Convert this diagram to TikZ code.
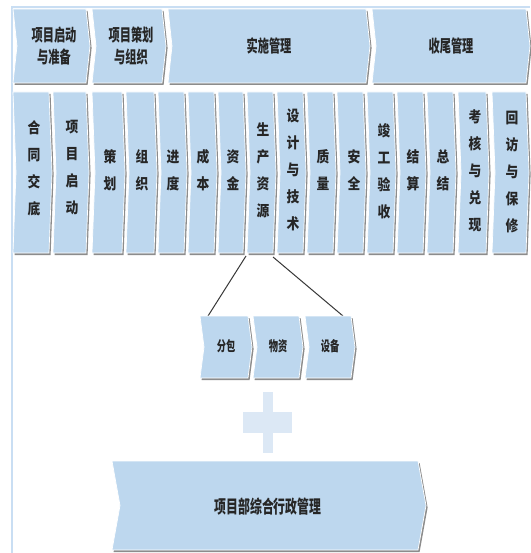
\documentclass[tikz,border=0pt]{standalone}
\usepackage{fontspec}
\newfontfamily\cjkNar[FakeStretch=0.66]{Noto Sans CJK SC}
\newfontfamily\cjkCol[FakeStretch=0.85]{Noto Sans CJK SC}
\usetikzlibrary{calc}
\definecolor{boxblue}{HTML}{BDD7EE}
\definecolor{plusblue}{HTML}{DCE8F5}
\definecolor{framec}{HTML}{C9DEF3}
\definecolor{txt}{HTML}{262626}
\definecolor{shad}{HTML}{8C8C8C}
\tikzset{
  chevbox/.style={fill=boxblue, draw=white, line width=0.7pt, line join=miter},
  chevshadow/.style={fill=shad},
  toplabel/.style={font=\cjkNar\bfseries\fontsize{17}{22}\selectfont, text=txt, align=center, inner sep=0pt},
  collabel/.style={font=\cjkCol\bfseries\fontsize{15}{27}\selectfont, text=txt, align=center, inner sep=0pt},
  smalllabel/.style={font=\cjkNar\bfseries\fontsize{14}{16}\selectfont, text=txt, inner sep=0pt},
  biglabel/.style={font=\cjkNar\bfseries\fontsize{18}{20}\selectfont, text=txt, inner sep=0pt},
  conn/.style={draw=black!78, line width=1pt},
  plusbar/.style={fill=plusblue},
  frameline/.style={draw=framec, line width=1.6pt}
}
\newcommand\mychev[5]{%
  \fill[chevshadow] ({#1+1.6},{#3+2}) -- ({#2+1.6},{#3+2}) -- ({#2+#5+1.6},{(#3+#4)/2+2}) -- ({#2+1.6},{#4+2}) -- ({#1+1.6},{#4+2}) -- ({#1+#5+1.6},{(#3+#4)/2+2}) -- cycle;
  \filldraw[chevbox] (#1,#3) -- (#2,#3) -- ({#2+#5},{(#3+#4)/2}) -- (#2,#4) -- (#1,#4) -- ({#1+#5},{(#3+#4)/2}) -- cycle;}
\begin{document}
\begin{tikzpicture}[x=1pt,y=-1pt]
\useasboundingbox (0,0) rectangle (530,553);
\fill[white] (0,0) rectangle (530,553);
% frame
\draw[frameline] (12,553) -- (12,7) -- (530,7);
% top row
\mychev{13}{86}{9}{83}{4}
\mychev{92}{162}{9}{83}{4}
\mychev{168}{366}{9}{83}{4}
\mychev{372}{526}{9}{83}{4}
\node[toplabel] (h1) at (54,46) {项目启动\\与准备};
\node[toplabel] (h2) at (131,46) {项目策划\\与组织};
\node[toplabel] (h3) at (269,46) {实施管理};
\node[toplabel] (h4) at (451,46) {收尾管理};
% columns
\mychev{13}{49}{92}{253}{3}
\mychev{53}{86}{92}{253}{3}
\mychev{92}{122}{92}{253}{3}
\mychev{126}{154}{92}{253}{3}
\mychev{158}{184}{92}{253}{3}
\mychev{188}{214}{92}{253}{3}
\mychev{218}{243}{92}{253}{3}
\mychev{247}{273}{92}{253}{3}
\mychev{277}{303}{92}{253}{3}
\mychev{307}{333}{92}{253}{3}
\mychev{337}{363}{92}{253}{3}
\mychev{367}{393}{92}{253}{3}
\mychev{397}{423}{92}{253}{3}
\mychev{427}{453}{92}{253}{3}
\mychev{458}{486}{92}{253}{3}
\mychev{492}{526}{92}{253}{3}
\node[collabel] (c1) at (34,168) {合\\同\\交\\底};
\node[collabel] (c2) at (72,168) {项\\目\\启\\动};
\node[collabel] (c3) at (110,170) {策\\划};
\node[collabel] (c4) at (142,170) {组\\织};
\node[collabel] (c5) at (173,170) {进\\度};
\node[collabel] (c6) at (203,170) {成\\本};
\node[collabel] (c7) at (233,170) {资\\金};
\node[collabel] (c8) at (263,170) {生\\产\\资\\源};
\node[collabel] (c9) at (293,170) {设\\计\\与\\技\\术};
\node[collabel] (c10) at (323,170) {质\\量};
\node[collabel] (c11) at (354,170) {安\\全};
\node[collabel] (c12) at (384,171) {竣\\工\\验\\收};
\node[collabel] (c13) at (413,170) {结\\算};
\node[collabel] (c14) at (443,170) {总\\结};
\node[collabel] (c15) at (475,171) {考\\核\\与\\兑\\现};
\node[collabel] (c16) at (512,172) {回\\访\\与\\保\\修};
% connectors
\coordinate (srcA) at (246,256);
\coordinate (dstA) at (208,316);
\coordinate (srcB) at (273,257);
\coordinate (dstB) at (343,316);
\draw[conn] (srcA) -- (dstA);
\draw[conn] (srcB) -- (dstB);
% small row
\mychev{200}{248}{316}{378}{4}
\mychev{253}{299}{316}{378}{4}
\mychev{305}{351}{316}{378}{4}
\node[smalllabel] (s1) at (226,346) {分包};
\node[smalllabel] (s2) at (278,346) {物资};
\node[smalllabel] (s3) at (330,346) {设备};
% plus
\fill[plusbar] (263,392) rectangle (273,453);
\fill[plusbar] (243,412) rectangle (292,433);
% bottom
\mychev{112}{418}{461}{550}{8}
\node[biglabel] (b1) at (268,507) {项目部综合行政管理};
\end{tikzpicture}
\end{document}
